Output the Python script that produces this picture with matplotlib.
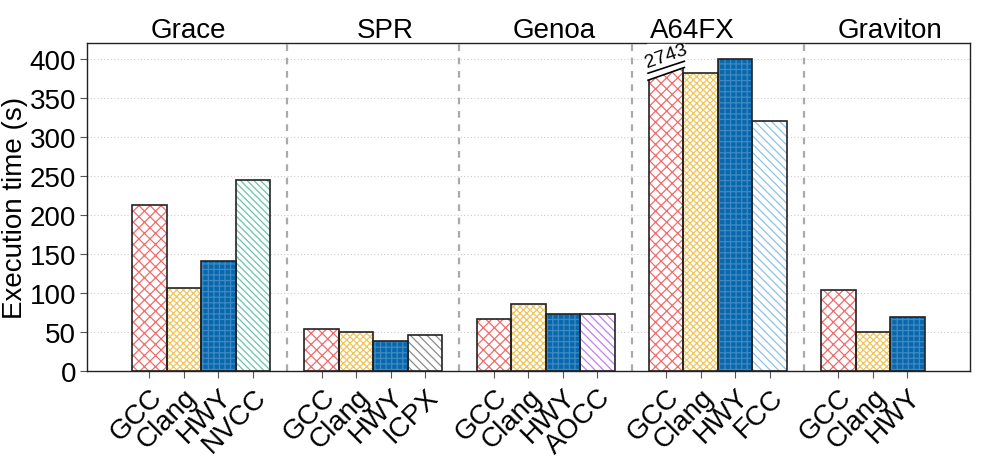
import matplotlib
matplotlib.use("Agg")
import matplotlib.pyplot as plt
import numpy as np

plt.rcParams['font.family'] = ['Liberation Sans', 'DejaVu Sans']
plt.rcParams['hatch.linewidth'] = 0.9

# ---- data ----
groups = ["Grace", "SPR", "Genoa", "A64FX", "Graviton"]
compilers = [
    ["GCC", "Clang", "HWY", "NVCC"],
    ["GCC", "Clang", "HWY", "ICPX"],
    ["GCC", "Clang", "HWY", "AOCC"],
    ["GCC", "Clang", "HWY", "FCC"],
    ["GCC", "Clang", "HWY"],
]
times = [
    [212, 106, 141, 245],
    [53.5, 50.5, 38.5, 45.5],
    [67, 85.5, 72.5, 73.5],
    [2743, 381, 400, 320],
    [104, 50.5, 69.5],
]

# styles
style = {
    "GCC":   dict(face="white",   hatchc="#f26b6b", hatch="xxx"),
    "Clang": dict(face="white",   hatchc="#f2c55c", hatch="xxxxx"),
    "HWY":   dict(face="#0868ac", hatchc="#3f88c4", hatch="+++"),
    "NVCC":  dict(face="white",   hatchc="#6cc4aa", hatch="\\" * 5),
    "ICPX":  dict(face="white",   hatchc="#8a8a8a", hatch="\\" * 4),
    "AOCC":  dict(face="white",   hatchc="#c27ff0", hatch="\\" * 4),
    "FCC":   dict(face="white",   hatchc="#8cc3e6", hatch="\\" * 4),
}
ymax = 420
cap = 392  # display height for a bar that runs off the axis

fig = plt.figure(figsize=(9.97, 4.6), dpi=100)
ax = fig.add_axes([0.0873, 0.1913, 0.8857, 0.713])

xticks, xlabels = [], []
title_x = [1.12, 6.84, 11.74, 15.75, 21.49]
for g, (gname, comps, vals) in enumerate(zip(groups, compilers, times)):
    base = g * 5
    for i, (c, v) in enumerate(zip(comps, vals)):
        x = base + i
        h = cap if v > ymax else v
        st = style[c]
        ax.bar(x, h, width=1.0, color=st["face"], edgecolor=st["hatchc"],
               hatch=st["hatch"], linewidth=0, zorder=2)
        ax.bar(x, h, width=1.0, fill=False, edgecolor="#222222",
               linewidth=1.2, zorder=3)
        xticks.append(x)
        xlabels.append(c)
        if v > ymax:
            x0, x1 = x - 0.55, x + 0.55
            low = (cap - 20, cap - 3)
            up = (cap - 11, cap + 5)
            ax.fill([x0, x1, x1, x0], [low[0], low[1], 419, 419],
                    color="white", zorder=4, lw=0)
            ax.plot([x0, x1], low, color="black", lw=1.2, zorder=5,
                    solid_capstyle="butt")
            ax.plot([x0, x1], up, color="black", lw=1.2, zorder=5,
                    solid_capstyle="butt")
            ax.text(x, cap + 12, str(v), rotation=19, ha="center",
                    va="center", fontsize=14, zorder=6)
    ax.text(title_x[g], 1.018, gname, transform=ax.get_xaxis_transform(),
            ha="center", va="baseline", fontsize=20)
    if g < len(groups) - 1:
        ax.axvline(base + 4, color="#aaaaaa", lw=1.6,
                   linestyle=(0, (3, 3)), zorder=1)

ax.set_xlim(-1.81, 23.82)
ax.set_ylim(0, ymax)
ax.set_yticks(np.arange(0, 401, 50))
ax.yaxis.grid(True, linestyle=(0, (1, 2)), color="#cccccc", lw=0.8, zorder=0)
ax.set_axisbelow(True)
ax.set_xticks(xticks)
ax.set_xticklabels(xlabels, rotation=45, ha="right", rotation_mode="anchor",
                   fontsize=20)
ax.tick_params(axis="y", labelsize=20, length=5, color="#555555", pad=3)
ax.tick_params(axis="x", length=5, color="#555555", pad=4)
ax.set_ylabel("Execution time (s)", fontsize=20, labelpad=1)
for s in ax.spines.values():
    s.set_linewidth(1.0)
    s.set_color("#222222")

fig.savefig("out.png", dpi=100)
